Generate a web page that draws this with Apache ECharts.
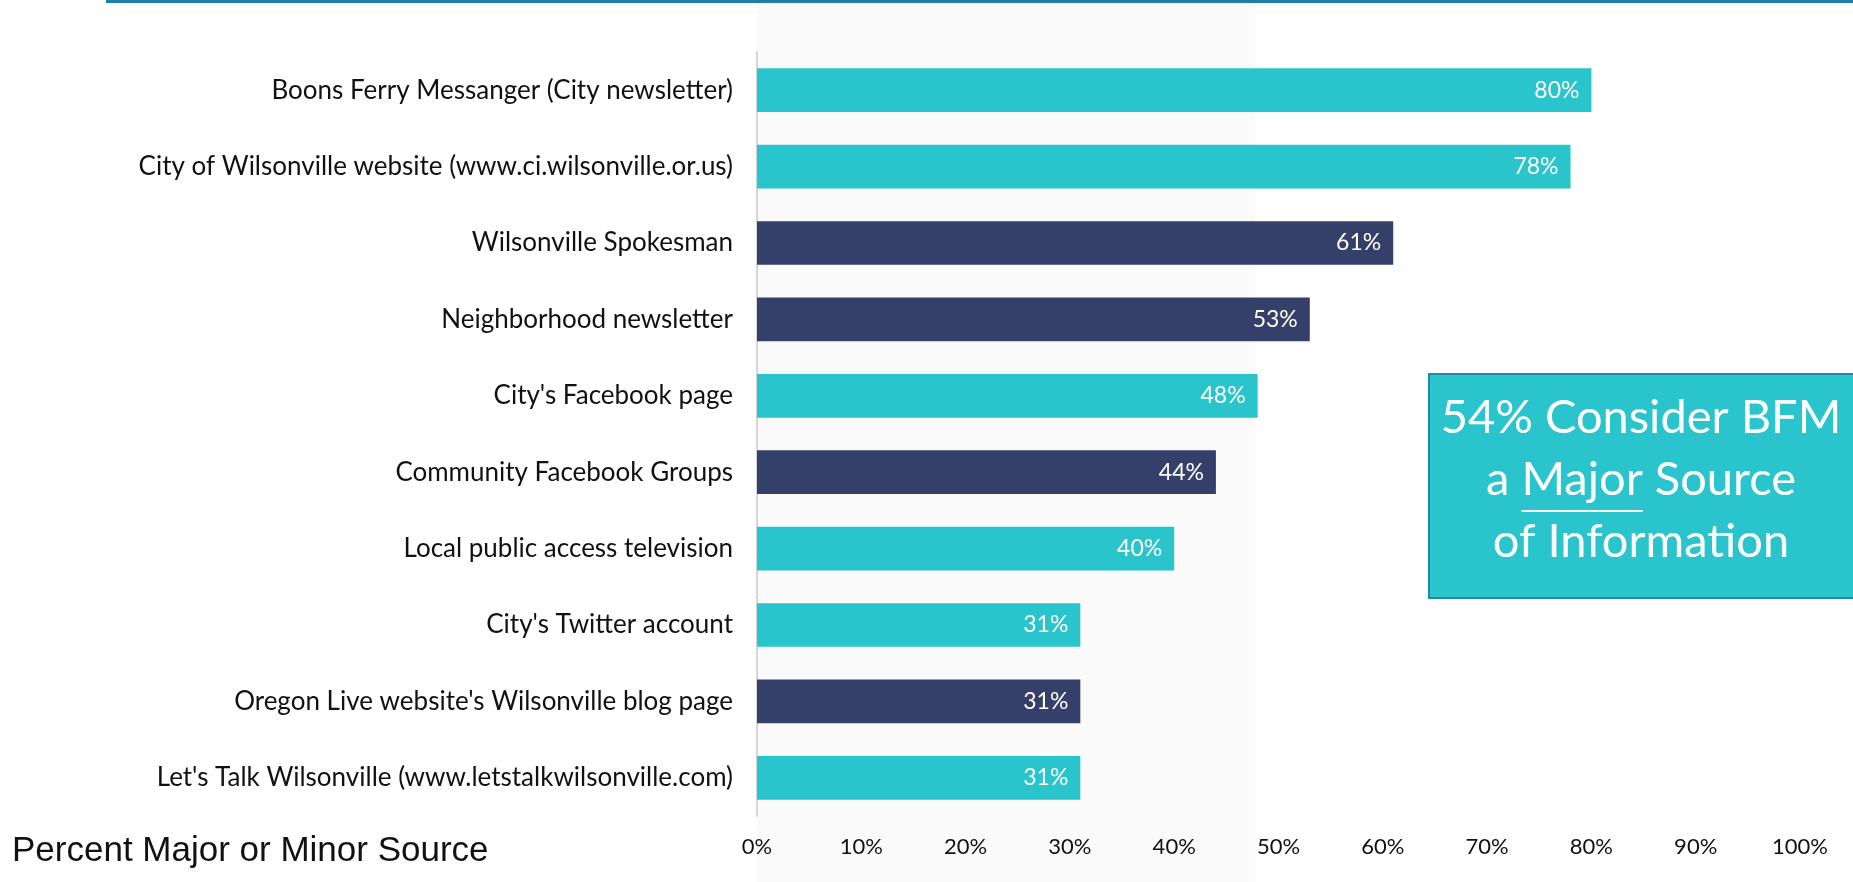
<!DOCTYPE html>
<html>
<head>
<meta charset="utf-8">
<script src="https://cdn.jsdelivr.net/npm/echarts@6/dist/echarts.min.js"></script>
<style>
  html, body { margin: 0; padding: 0; background: #ffffff; }
  #chart { width: 1853px; height: 882px; }
</style>
</head>
<body>
<div id="chart"></div>
<script>
const categories = [
  "Boons Ferry Messanger (City newsletter)",
  "City of Wilsonville website (www.ci.wilsonville.or.us)",
  "Wilsonville Spokesman",
  "Neighborhood newsletter",
  "City's Facebook page",
  "Community Facebook Groups",
  "Local public access television",
  "City's Twitter account",
  "Oregon Live website's Wilsonville blog page",
  "Let's Talk Wilsonville (www.letstalkwilsonville.com)"
];
const values = [80, 78, 61, 53, 48, 44, 40, 31, 31, 31];
const cityOwned = [true, true, false, false, true, false, true, true, false, true];
const xTicks = [0, 10, 20, 30, 40, 50, 60, 70, 80, 90, 100];
const axisTitle = "Percent Major or Minor Source";
const calloutLines = ["54% Consider BFM", "a Major Source", "of Information"];

const TEAL = "#29c4cc";
const NAVY = "#35406a";
const LABEL_FONT = "Lato";

const chart = echarts.init(document.getElementById("chart"));

// measure for underline of "Major"
const cv = document.createElement("canvas").getContext("2d");
const calloutFontSize = 47;
cv.font = calloutFontSize + "px Lato";
const fullW = cv.measureText(calloutLines[1]).width;
const preW = cv.measureText("a ").width;
const majW = cv.measureText("Major").width;
const boxCx = 1641;
const ulX1 = boxCx - fullW / 2 + preW;

const option = {
  animation: false,
  backgroundColor: "#ffffff",
  grid: { left: 757, right: 53, top: 52, bottom: 66, containLabel: false },
  xAxis: {
    type: "value",
    min: 0, max: 100, interval: 10,
    axisLine: { show: false },
    axisTick: { show: false },
    splitLine: { show: false },
    axisLabel: {
      formatter: v => xTicks.includes(v) ? v + "%" : "",
      fontFamily: LABEL_FONT, fontSize: 22, color: "#111", margin: 20
    }
  },
  yAxis: {
    type: "category",
    data: categories,
    inverse: true,
    axisLine: { show: true, lineStyle: { color: "#d6d6d6", width: 2 } },
    axisTick: { show: false },
    axisLabel: { fontFamily: LABEL_FONT, fontSize: 26, color: "#111", margin: 24 }
  },
  series: [{
    type: "bar",
    barCategoryGap: "42.8%",
    data: values.map((v, i) => ({ value: v, itemStyle: { color: cityOwned[i] ? TEAL : NAVY } })),
    label: {
      show: true, position: "insideRight", distance: 12,
      formatter: p => p.value + "%",
      color: "#ffffff", fontFamily: LABEL_FONT, fontSize: 23
    },
    z: 3
  }],
  graphic: [
    { type: "rect", z: -1, silent: true,
      shape: { x: 757, y: 3, width: 498, height: 879 }, style: { fill: "#fafafa" } },
    { type: "rect", z: 5, silent: true,
      shape: { x: 106, y: 0, width: 1747, height: 3 }, style: { fill: "#1f7ea6" } },
    { type: "text", z: 5, left: 12, top: 834,
      style: { text: axisTitle, font: "35px 'Liberation Sans', Arial, sans-serif", fill: "#111" } },
    { type: "rect", z: 5, silent: true,
      shape: { x: 1429, y: 374, width: 430, height: 224 },
      style: { fill: TEAL, stroke: "#1e8aa8", lineWidth: 2 } },
    { type: "text", z: 6, x: boxCx, y: 441,
      style: { text: calloutLines[0], font: calloutFontSize + "px Lato", fill: "#fff", textAlign: "center", textVerticalAlign: "bottom" } },
    { type: "text", z: 6, x: boxCx, y: 503,
      style: { text: calloutLines[1], font: calloutFontSize + "px Lato", fill: "#fff", textAlign: "center", textVerticalAlign: "bottom" } },
    { type: "text", z: 6, x: boxCx, y: 565,
      style: { text: calloutLines[2], font: calloutFontSize + "px Lato", fill: "#fff", textAlign: "center", textVerticalAlign: "bottom" } },
    { type: "line", z: 6, silent: true,
      shape: { x1: ulX1, y1: 511, x2: ulX1 + majW, y2: 511 },
      style: { stroke: "#fff", lineWidth: 2 } }
  ]
};
chart.setOption(option);
</script>
</body>
</html>
